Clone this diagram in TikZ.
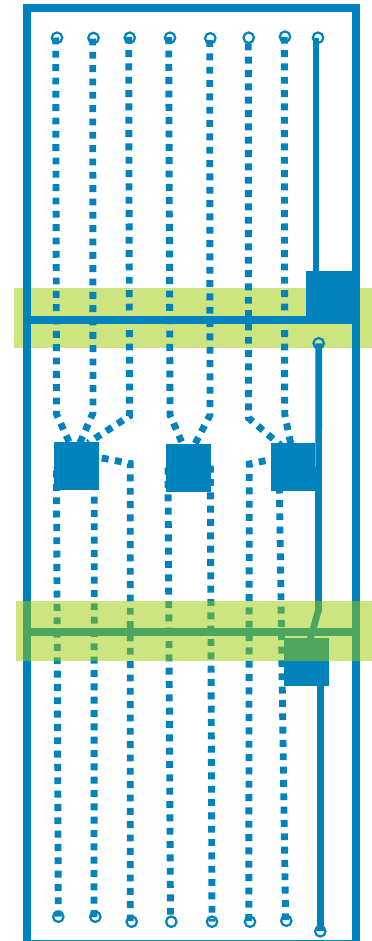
\documentclass[tikz,border=0pt]{standalone}
\usetikzlibrary{calc}
\definecolor{wire}{HTML}{0082BD}
\definecolor{bandA}{HTML}{CDE580}
\definecolor{bandB}{HTML}{9BCB01}
\tikzset{term/.style={circle, draw=wire, line width=.055cm, minimum size=.2625cm, inner sep=0pt},
         blk/.style={rectangle, fill=wire, minimum width=1.135cm, minimum height=1.2cm, inner sep=0pt},
         dots/.style={draw=wire, line width=.172cm, dash pattern=on .172cm off .1613cm},
         solidw/.style={draw=wire, line width=.168cm},
         wall/.style={draw=wire, line width=.2cm}}

\begin{document}
\begin{tikzpicture}[x=.025cm, y=-.025cm]
  \useasboundingbox (0,0) rectangle (372,941);

  % ---------- upper band, under everything ----------
  \fill[bandA] (14,288) rectangle (372,348);

  % ---------- the frame and the bars ----------
  \draw[wall] (27,8) rectangle (356,944);
  \coordinate (barAl) at (23,320);  \coordinate (barAr) at (360,320);
  \coordinate (barBl) at (23,632);  \coordinate (barBr) at (360,632);
  \draw[wall] (barAl) -- (barAr);
  \draw[wall] (barBl) -- (barBr);

  % ---------- terminals ----------
  \node[term] (t1) at (57,37.7){};
  \node[term] (t2) at (93.5,38){};
  \node[term] (t3) at (129.7,37.7){};
  \node[term] (t4) at (170,37.7){};
  \node[term] (t5) at (210.3,38.3){};
  \node[term] (t6) at (248.7,37.7){};
  \node[term] (t7) at (285,36.7){};
  \node[term] (t8) at (318,37.7){};
  \node[term] (t9) at (318.7,343.3){};
  \node[term] (u1) at (58.3,916.7){};
  \node[term] (u2) at (95.3,916.7){};
  \node[term] (u3) at (131.7,921.7){};
  \node[term] (u4) at (171.3,921.7){};
  \node[term] (u5) at (212,921.7){};
  \node[term] (u6) at (250,921.7){};
  \node[term] (u7) at (286.3,920.7){};
  \node[term] (u8) at (320.3,931.3){};

  % ---------- blocks ----------
  \node[blk] (bA) at (76.3,466){};
  \node[blk] (bB) at (188.7,467.8){};
  \node[blk,minimum width=1.12cm] (bC) at (293,467.4){};
  \node[blk,minimum width=1.15cm,minimum height=1.23cm] (bT) at (329,295.5){};
  \node[blk] (bD) at (306.5,662){};

  % ---------- dotted wires, terminal to block ----------
  \coordinate (a1) at (55.7,37.5);
  \coordinate (a2) at (92.7,38.5);
  \coordinate (a3) at (128.7,36.8);
  \coordinate (a4) at (168.7,37.2);
  \coordinate (a5) at (209.7,40.1);
  \coordinate (a6) at (248.3,43.4);
  \coordinate (a7) at (284.3,36.8);
  \path[dots] (a1) -- (56.5,414) -- (70,444);
  \path[dots] (a2) -- (93,413) -- (79,445);
  \path[dots] (a3) -- (129.5,416) -- (88,443);
  \path[dots] (a4) -- (170,415) -- (183,445);
  \path[dots] (a5) -- (210,415) -- (194,446);
  \path[dots] (a6) -- (248.5,418) -- (285,449);
  \path[dots] (a7) -- (284.7,414) -- (291,445);

  % ---------- dotted wires, block to terminal ----------
  \coordinate (c1) at (56.5,470.6);
  \coordinate (c2) at (94.3,470);
  \coordinate (c3) at (101.8,458);
  \coordinate (c4) at (168,467.7);
  \coordinate (c5) at (210.3,465.7);
  \coordinate (c6) at (278.6,458);
  \coordinate (c7) at (279.2,473.3);
  \path[dots] (c1) -- (u1.center);
  \path[dots] (c2) -- (94,917);
  \path[dots] (c3) -- (130.3,463.5) -- (130.2,921);
  \path[dots] (c4) -- (170.5,921);
  \path[dots] (c5) -- (u5.center);
  \path[dots] (c6) -- (249.3,464) -- (248.8,921);
  \path[dots] (c7) -- (285.6,921);

  % ---------- solid wires ----------
  \path[solidw] ([xshift=-.05cm]t8.center) -- ([xshift=-.05cm]t8.center |- bT.north);
  \path[solidw] (t9.center) -- (318.5,610) -- (310,640);
  \path[solidw] (u8.center |- bD.south) -- (u8.center);

  % ---------- lower band, over everything ----------
  \fill[bandB, opacity=.5] (16,601) rectangle (372,661);

\end{tikzpicture}
\end{document}
